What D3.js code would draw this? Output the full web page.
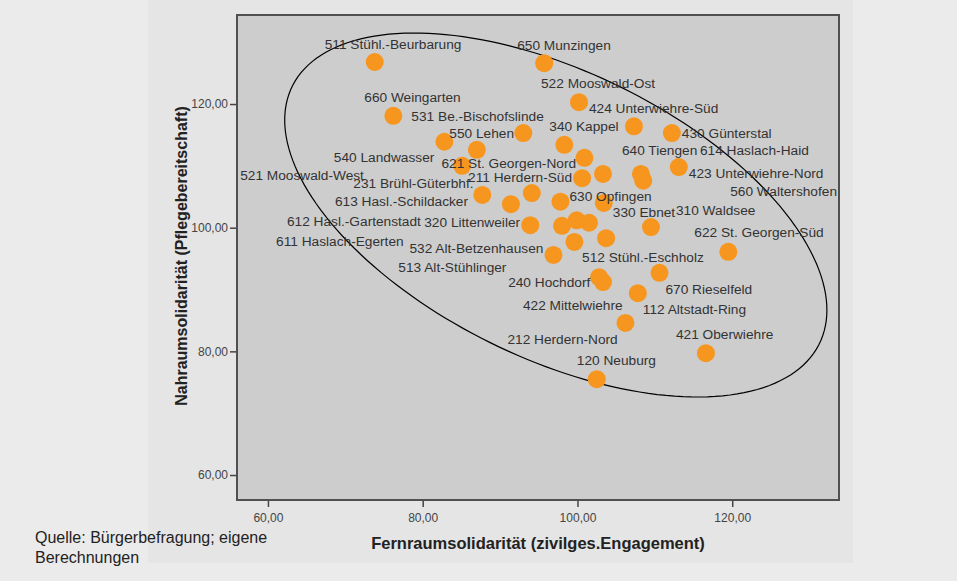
<!DOCTYPE html>
<html lang="de">
<head>
<meta charset="UTF-8">
<title>Nahraum- und Fernraumsolidarität</title>
<style>
  body { margin: 0; background: #ebebeb; }
  svg { display: block; font-family: "Liberation Sans", Arial, sans-serif; }
</style>
</head>
<body>
<svg id="chart"></svg>
<script src="https://d3js.org/d3.v7.min.js"></script>
<script>
// Stadtbezirke (null = Punkt ohne Beschriftung)
const districts = [
  "511 Stühl.-Beurbarung", "650 Munzingen", "660 Weingarten", "522 Mooswald-Ost",
  "424 Unterwiehre-Süd", "430 Günterstal", "531 Be.-Bischofslinde", "550 Lehen",
  "540 Landwasser", "340 Kappel", "521 Mooswald-West", "621 St. Georgen-Nord",
  "423 Unterwiehre-Nord", "614 Haslach-Haid", "211 Herdern-Süd", "640 Tiengen",
  "560 Waltershofen", "231 Brühl-Güterbhf.", null, "613 Hasl.-Schildacker",
  "630 Opfingen", "330 Ebnet", "320 Littenweiler", "612 Hasl.-Gartenstadt",
  null, "611 Haslach-Egerten", "310 Waldsee", "513 Alt-Stühlinger",
  "512 Stühl.-Eschholz", "532 Alt-Betzenhausen", "622 St. Georgen-Süd", "670 Rieselfeld",
  "240 Hochdorf", "422 Mittelwiehre", "112 Altstadt-Ring", "212 Herdern-Nord",
  "421 Oberwiehre", "120 Neuburg"
];
// Fernraumsolidarität (zivilges. Engagement)
const fernraum = [
  73.8, 95.7, 76.2, 100.2, 107.3, 112.2, 82.8, 93.0,
  87.0, 98.3, 85.1, 100.9, 113.1, 103.3, 100.6, 108.2,
  108.5, 87.7, 94.1, 91.4, 97.8, 103.4, 93.9, 98.0,
  99.9, 101.5, 109.5, 99.6, 103.7, 96.9, 119.5, 110.6,
  102.8, 103.3, 107.8, 106.2, 116.6, 102.5
];
// Nahraumsolidarität (Pflegebereitschaft)
const nahraum = [
  126.8, 126.6, 118.1, 120.3, 116.4, 115.3, 113.9, 115.3,
  112.6, 113.4, 110.0, 111.3, 109.8, 108.7, 108.0, 108.7,
  107.6, 105.3, 105.6, 103.8, 104.2, 104.0, 100.4, 100.3,
  101.2, 100.8, 100.1, 97.7, 98.3, 95.6, 96.1, 92.7,
  92.0, 91.2, 89.4, 84.6, 79.7, 75.5
];
// where each label sits relative to its dot (left edge, vertical centre), px
const labelShift = [
  [-50, -18], [-27, -18], [-29, -19], [-38, -19], [-45, -18], [10, 0], [-33, -26], [-74, 0],
  [-143, 7], [-15, -19], [-222, 9], [-143, 5], [10, 6], [97, -24], [-114, -1], [-19, -24],
  [87, 10], [-129, -12], null, [-176, -3], [9, -6], [9, 9], [-106, -3], [-275, -5],
  null, [-313, 18], [25, -17], [-176, 25], [-24, 19], [-144, -7], [-34, -20], [6, 16],
  [-91, 5], [-80, 23], [5, 16], [-118, 16], [-30, -19], [-20, -19]
];
const xTicks = [60, 80, 100, 120];
const yTicks = [60, 80, 100, 120];
// concentration ellipse: centre and covariance in data units
const ellipseCenter = [97.2, 102.05];
const ellipseCov = [[1227.5, -538.3], [-538.3, 866.3]];

const width = 957, height = 581;
const plot = { left: 237, right: 839, top: 15, bottom: 500 };

const data = districts.map((name, i) => ({
  name, x: fernraum[i], y: nahraum[i], shift: labelShift[i]
}));

const svg = d3.select("#chart")
  .attr("width", width)
  .attr("height", height)
  .attr("viewBox", [0, 0, width, height]);

const x = d3.scaleLinear([56, 133.8], [plot.left, plot.right]);
const y = d3.scaleLinear([55.96, 134.4], [plot.bottom, plot.top]);
const fmt = d => d.toFixed(2).replace(".", ",");

// background panel
svg.append("rect").attr("width", width).attr("height", height).attr("fill", "#ebebeb");
svg.append("rect").attr("x", 148).attr("y", 0).attr("width", 705).attr("height", 563).attr("fill", "#e5e5e5");

// plot area
svg.append("rect")
  .attr("x", plot.left).attr("y", plot.top)
  .attr("width", plot.right - plot.left).attr("height", plot.bottom - plot.top)
  .attr("fill", "#cdcdcd");

// axes
svg.append("g")
  .attr("transform", `translate(${plot.left},0)`)
  .call(d3.axisLeft(y).tickValues(yTicks).tickFormat(fmt).tickSize(7).tickPadding(2))
  .call(g => g.select(".domain").remove())
  .call(g => g.selectAll(".tick line").attr("stroke", "#444").attr("stroke-width", 1.5))
  .call(g => g.selectAll(".tick text").attr("fill", "#444").attr("font-size", 12)
    .attr("font-family", "Liberation Sans, Arial, sans-serif"));

svg.append("g")
  .attr("transform", `translate(0,${plot.bottom})`)
  .call(d3.axisBottom(x).tickValues(xTicks).tickFormat(fmt).tickSize(7).tickPadding(6))
  .call(g => g.select(".domain").remove())
  .call(g => g.selectAll(".tick line").attr("stroke", "#444").attr("stroke-width", 1.5))
  .call(g => g.selectAll(".tick text").attr("fill", "#444").attr("font-size", 12)
    .attr("font-family", "Liberation Sans, Arial, sans-serif"));

// plot frame
svg.append("rect")
  .attr("x", plot.left).attr("y", plot.top)
  .attr("width", plot.right - plot.left).attr("height", plot.bottom - plot.top)
  .attr("fill", "none").attr("stroke", "#505050").attr("stroke-width", 2);

// ellipse from centre + covariance (Cholesky factor)
const l11 = Math.sqrt(ellipseCov[0][0]);
const l21 = ellipseCov[1][0] / l11;
const l22 = Math.sqrt(ellipseCov[1][1] - l21 * l21);
const angles = d3.range(0, 2 * Math.PI, Math.PI / 90);
svg.append("path")
  .datum(angles)
  .attr("fill", "none")
  .attr("stroke", "#000")
  .attr("stroke-width", 1.2)
  .attr("d", d3.line()
    .x(t => x(ellipseCenter[0] + l11 * Math.cos(t)))
    .y(t => y(ellipseCenter[1] + l21 * Math.cos(t) + l22 * Math.sin(t)))
    .curve(d3.curveLinearClosed));

// dots
svg.append("g")
  .selectAll("circle")
  .data(data)
  .join("circle")
  .attr("cx", d => x(d.x))
  .attr("cy", d => y(d.y))
  .attr("r", 9)
  .attr("fill", "#f7961e");

// dot labels
svg.append("g")
  .attr("font-size", 13.7)
  .attr("fill", "#333")
  .selectAll("text")
  .data(data.filter(d => d.name))
  .join("text")
  .attr("x", d => x(d.x) + d.shift[0])
  .attr("y", d => y(d.y) + d.shift[1])
  .attr("dy", "0.35em")
  .text(d => d.name);

// axis titles
svg.append("text")
  .attr("x", 538).attr("y", 543).attr("dy", "0.35em")
  .attr("text-anchor", "middle")
  .attr("font-weight", "bold").attr("font-size", 16.5).attr("fill", "#222")
  .text("Fernraumsolidarität (zivilges.Engagement)");

svg.append("text")
  .attr("transform", "translate(181,256) rotate(-90)")
  .attr("dy", "0.35em")
  .attr("text-anchor", "middle")
  .attr("font-weight", "bold").attr("font-size", 16).attr("fill", "#222")
  .text("Nahraumsolidarität (Pflegebereitschaft)");

// source note
svg.append("text")
  .attr("x", 35).attr("y", 543)
  .attr("font-size", 16).attr("fill", "#222")
  .call(t => t.append("tspan").attr("x", 35).text("Quelle: Bürgerbefragung; eigene"))
  .call(t => t.append("tspan").attr("x", 35).attr("dy", 20).text("Berechnungen"));
</script>
</body>
</html>
